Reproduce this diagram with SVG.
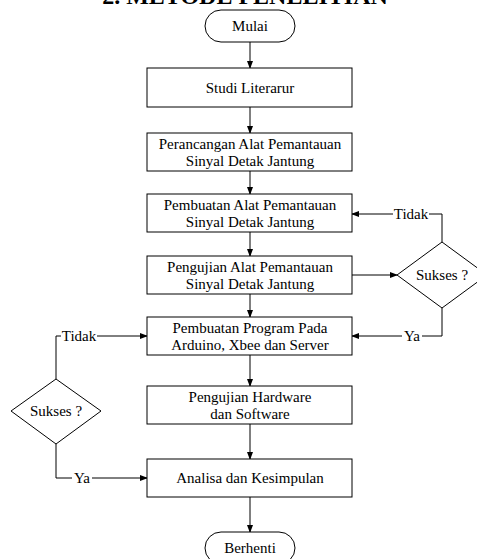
<svg xmlns="http://www.w3.org/2000/svg" width="477" height="559" viewBox="0 0 477 559">
<defs>
<marker id="ah" markerWidth="8" markerHeight="6" refX="7" refY="3" orient="auto" markerUnits="userSpaceOnUse">
<path d="M0,0 L8,3 L0,6 Z" fill="#000"/>
</marker>
<style>
.s{fill:#fff;stroke:#000;stroke-width:1}
.t{font-family:'Liberation Serif','Times New Roman',serif;font-size:15px;fill:#000;text-anchor:middle}
.c{fill:none;stroke:#000;stroke-width:1}
.a{fill:none;stroke:#000;stroke-width:1;marker-end:url(#ah)}
.lb{fill:#fff;stroke:none}
</style>
</defs>
<rect width="477" height="559" fill="#fff"/>
<text x="245" y="4" font-family="Liberation Serif, Times New Roman, serif" font-size="24" font-weight="bold" text-anchor="middle">2. METODE PENELITIAN</text>
<g id="connectors">
<line class="a" x1="250" y1="42" x2="250" y2="68"/>
<line class="a" x1="250" y1="107" x2="250" y2="133"/>
<line class="a" x1="250" y1="171" x2="250" y2="194"/>
<line class="a" x1="250" y1="232" x2="250" y2="256"/>
<line class="a" x1="250" y1="294" x2="250" y2="317"/>
<line class="a" x1="250" y1="355" x2="250" y2="386"/>
<line class="a" x1="250" y1="424" x2="250" y2="459"/>
<line class="a" x1="250" y1="497" x2="250" y2="532"/>
<line class="a" x1="352" y1="275" x2="397" y2="275"/>
<polyline class="a" points="442,242 442,214 352,214"/>
<polyline class="a" points="442,308 442,336 352,336"/>
<polyline class="a" points="56,379 56,336 147,336"/>
<polyline class="a" points="56,444 56,478 147,478"/>
<rect class="lb" x="393" y="206" width="36" height="16"/>
<text class="t" font-family="Liberation Serif, serif" x="411" y="219">Tidak</text>
<rect class="lb" x="402" y="328" width="20" height="16"/>
<text class="t" font-family="Liberation Serif, serif" x="412" y="341">Ya</text>
<rect class="lb" x="61" y="328" width="36" height="16"/>
<text class="t" font-family="Liberation Serif, serif" x="79" y="341">Tidak</text>
<rect class="lb" x="72" y="470" width="20" height="16"/>
<text class="t" font-family="Liberation Serif, serif" x="82" y="483">Ya</text>
</g>
<g font-family="Liberation Serif, serif">
<g id="mulai">
<rect class="s" x="205" y="10" width="90" height="32" rx="16"/>
<text class="t" x="250" y="31">Mulai</text>
</g>
<g id="studi">
<rect class="s" x="147" y="68" width="205" height="39"/>
<text class="t" x="250" y="93">Studi Literarur</text>
</g>
<g id="perancangan">
<rect class="s" x="147" y="133" width="205" height="38"/>
<text class="t" x="250" y="149">Perancangan Alat Pemantauan</text>
<text class="t" x="250" y="166">Sinyal Detak Jantung</text>
</g>
<g id="pembuatan-alat">
<rect class="s" x="147" y="194" width="205" height="38"/>
<text class="t" x="250" y="210">Pembuatan Alat Pemantauan</text>
<text class="t" x="250" y="227">Sinyal Detak Jantung</text>
</g>
<g id="pengujian-alat">
<rect class="s" x="147" y="256" width="205" height="38"/>
<text class="t" x="250" y="272">Pengujian Alat Pemantauan</text>
<text class="t" x="250" y="289">Sinyal Detak Jantung</text>
</g>
<g id="program">
<rect class="s" x="147" y="317" width="205" height="38"/>
<text class="t" x="250" y="333">Pembuatan Program Pada</text>
<text class="t" x="250" y="350">Arduino, Xbee dan Server</text>
</g>
<g id="pengujian-hw">
<rect class="s" x="147" y="386" width="205" height="38"/>
<text class="t" x="250" y="402">Pengujian Hardware</text>
<text class="t" x="250" y="419">dan Software</text>
</g>
<g id="analisa">
<rect class="s" x="147" y="459" width="205" height="38"/>
<text class="t" x="250" y="483">Analisa dan Kesimpulan</text>
</g>
<g id="berhenti">
<rect class="s" x="205" y="532" width="90" height="32" rx="16"/>
<text class="t" x="250" y="553">Berhenti</text>
</g>
<g id="sukses-kanan">
<polygon class="s" points="442,242 487,275 442,308 397,275"/>
<text class="t" x="442" y="280">Sukses ?</text>
</g>
<g id="sukses-kiri">
<polygon class="s" points="56,379 101,411 56,444 11,411"/>
<text class="t" x="56" y="416">Sukses ?</text>
</g>
</g>
</svg>
